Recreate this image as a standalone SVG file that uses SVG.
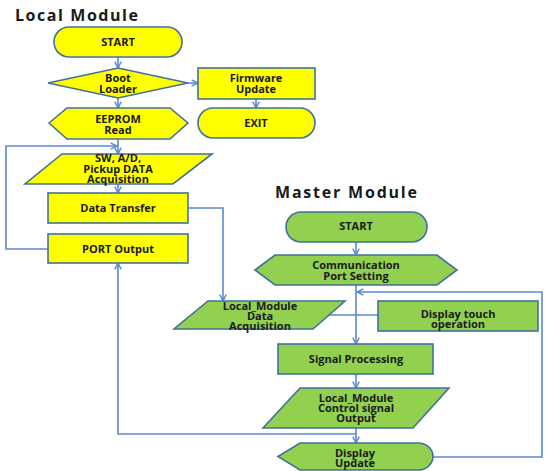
<svg xmlns="http://www.w3.org/2000/svg" width="545" height="471" viewBox="0 0 545 471">
<defs>
<style>
.y{fill:#FFFF00;stroke:#41719C;stroke-width:1.6}
.g{fill:#92D050;stroke:#41719C;stroke-width:1.6}
.t{font-family:"Open Sans","Noto Sans",sans-serif;font-weight:bold;font-size:11px;fill:#1a1a1a;text-anchor:middle}
.h{font-family:"Open Sans","Noto Sans",sans-serif;font-weight:bold;font-size:16px;fill:#1a1a1a}
.c{fill:none;stroke:#5B8BCB;stroke-width:1.6}
</style>
<marker id="a" viewBox="0 0 10 10" refX="9" refY="5" markerWidth="8" markerHeight="8" markerUnits="userSpaceOnUse" orient="auto">
<path d="M1,1 L9,5 L1,9" fill="none" stroke="#5B8BCB" stroke-width="1.8"/>
</marker>
</defs>
<rect width="545" height="471" fill="#ffffff"/>
<text class="h" x="15" y="21" textLength="123">Local Module</text>
<text class="h" x="275" y="198" textLength="142">Master Module</text>
<g id="connectors">
<path class="c" d="M118,57 V68" marker-end="url(#a)"/>
<path class="c" d="M188,83 H198" marker-end="url(#a)"/>
<path class="c" d="M256,99 V108" marker-end="url(#a)"/>
<path class="c" d="M118,98 V108" marker-end="url(#a)"/>
<path class="c" d="M118,139 V154" marker-end="url(#a)"/>
<path class="c" d="M48,249 H6 V146 H117" marker-end="url(#a)"/>
<path class="c" d="M118,184 V193" marker-end="url(#a)"/>
<path class="c" d="M188,208 H223 V301" marker-end="url(#a)"/>
<path class="c" d="M356,434 H118 V263" marker-end="url(#a)"/>
<path class="c" d="M356,242 V255" marker-end="url(#a)"/>
<path class="c" d="M356,285 V344" marker-end="url(#a)"/>
<path class="c" d="M433,457 H542 V292 H357" marker-end="url(#a)"/>
<path class="c" d="M329,315 H378"/>
<path class="c" d="M356,374 V388" marker-end="url(#a)"/>
<path class="c" d="M356,428 V443" marker-end="url(#a)"/>
</g>
<g id="l-start"><rect class="y" x="54" y="27" width="128" height="30" rx="15"/><text class="t" x="118" y="46">START</text></g>
<g id="l-boot"><polygon class="y" points="48,83 118,68 188,83 118,98"/><text class="t" x="118" y="82">Boot</text><text class="t" x="118" y="93">Loader</text></g>
<g id="l-firmware"><rect class="y" x="198" y="68" width="117" height="31"/><text class="t" x="256" y="82">Firmware</text><text class="t" x="256" y="93">Update</text></g>
<g id="l-exit"><rect class="y" x="198" y="108" width="117" height="30" rx="15"/><text class="t" x="256" y="127">EXIT</text></g>
<g id="l-eeprom"><polygon class="y" points="49,123 67,108 170,108 188,123 170,139 67,139"/><text class="t" x="118" y="123">EEPROM</text><text class="t" x="118" y="134">Read</text></g>
<g id="l-sw"><polygon class="y" points="62,154 212,154 173,184 25,184"/><text class="t" x="118" y="162">SW, A/D,</text><text class="t" x="118" y="173">Pickup DATA</text><text class="t" x="118" y="183">Acquisition</text></g>
<g id="l-transfer"><rect class="y" x="48" y="193" width="140" height="30"/><text class="t" x="118" y="212">Data Transfer</text></g>
<g id="l-port"><rect class="y" x="48" y="234" width="140" height="29"/><text class="t" x="118" y="253">PORT Output</text></g>
<g id="m-start"><rect class="g" x="286" y="212" width="141" height="30" rx="15"/><text class="t" x="356" y="230">START</text></g>
<g id="m-comm"><polygon class="g" points="255,270 275,255 437,255 457,270 437,285 275,285"/><text class="t" x="356" y="269">Communication</text><text class="t" x="356" y="280">Port Setting</text></g>
<g id="m-acq"><polygon class="g" points="208,301 345,301 313,329 174,329"/><text class="t" x="260" y="310">Local_Module</text><text class="t" x="260" y="320">Data</text><text class="t" x="260" y="330">Acquisition</text></g>
<g id="m-touch"><rect class="g" x="378" y="301" width="160" height="30"/><text class="t" x="458" y="318">Display touch</text><text class="t" x="458" y="328">operation</text></g>
<g id="m-signal"><rect class="g" x="278" y="344" width="155" height="30"/><text class="t" x="356" y="363">Signal Processing</text></g>
<g id="m-control"><polygon class="g" points="300,388 449,388 413,428 263,428"/><text class="t" x="356" y="402">Local_Module</text><text class="t" x="356" y="412">Control signal</text><text class="t" x="356" y="422">Output</text></g>
<g id="m-display"><path class="g" d="M278,456.5 L300,443 H418 A15,13.5 0 0 1 418,470 H300 Z"/><text class="t" x="355" y="457">Display</text><text class="t" x="355" y="467">Update</text></g>
</svg>
